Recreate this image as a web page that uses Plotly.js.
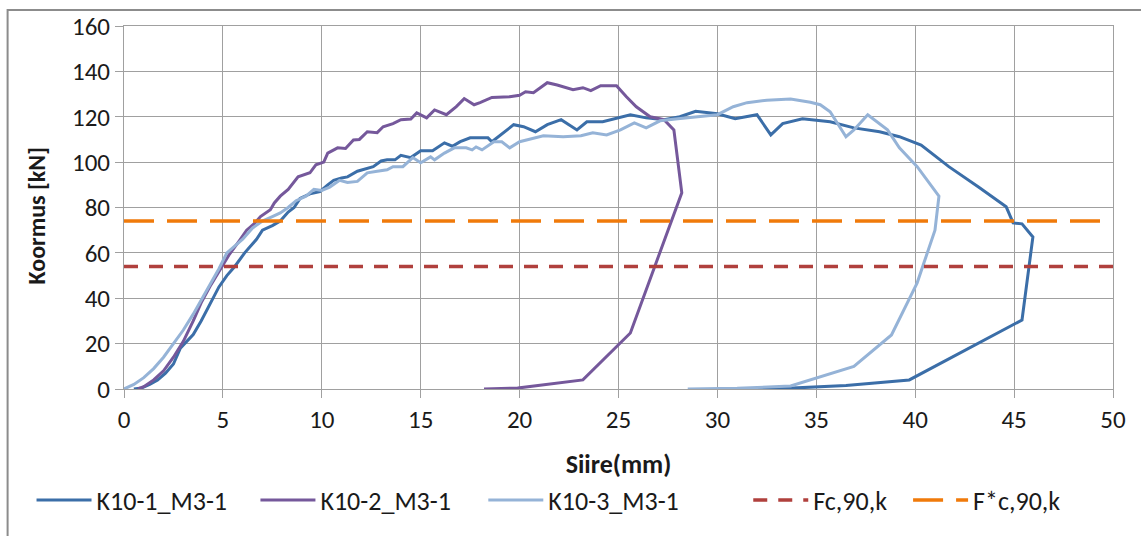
<!DOCTYPE html>
<html>
<head>
<meta charset="utf-8">
<script src="https://cdn.plot.ly/plotly-3.0.1.min.js"></script>
<style>
  html, body { margin: 0; padding: 0; background: #fff; }
  #chart { width: 1141px; height: 536px; }
</style>
</head>
<body>
<div id="chart"></div>
<script>
// ---- data ----
const seriesNames = ["K10-1_M3-1", "K10-2_M3-1", "K10-3_M3-1", "Fc,90,k", "F*c,90,k"];

const k1X = [0.5,0.9,1.3,1.7,2.1,2.5,2.85,3.2,3.5,3.9,4.4,4.8,5.2,5.6,6.1,6.4,6.7,7.0,7.5,7.9,8.3,8.6,8.9,9.4,9.9,10.3,10.6,11.0,11.3,11.8,12.2,12.6,13.0,13.3,13.7,14.0,14.5,15.0,15.6,16.2,16.6,17.0,17.5,18.0,18.4,18.6,19.2,19.7,20.2,20.8,21.4,22.1,22.9,23.4,24.2,25.1,25.6,26.4,27.3,28.1,28.9,30.0,30.9,32.0,32.7,33.3,34.3,35.7,36.9,38.2,39.2,40.3,41.7,43.2,44.6,44.95,45.4,45.95,45.4,39.7,36.5,33.5,32.0];
const k1Y = [0,0.5,2,4,7,11,18,21,24,30,38,45,50,54,60,63,66,70,72,74,78,80,84,86,87,90,92,93,93.5,96,97,98,100.5,101,101,103,102,105,105,108.5,107,109,110.7,110.7,110.7,109,113,116.5,115.6,113.4,116.5,118.7,114.2,117.8,117.8,120,120.9,119.5,118.7,120,122.4,121.3,119.1,120.9,112,117,119.1,117.8,115.1,113.4,111.2,107.5,98,89,80.3,73.2,72.8,67,30.4,4,1.5,0.3,0];

const k2X = [0.7,1.0,1.5,2.0,2.5,3.0,3.5,3.9,4.4,4.9,5.3,5.8,6.2,6.6,6.9,7.4,7.6,7.9,8.3,8.8,9.4,9.7,10.1,10.3,10.8,11.2,11.6,11.9,12.3,12.8,13.1,13.6,14.0,14.5,14.8,15.3,15.7,16.3,16.8,17.2,17.7,18.0,18.6,19.5,20.0,20.3,20.7,21.4,21.9,22.7,23.2,23.6,24.1,24.9,25.4,25.9,26.6,27.3,27.8,28.2,25.6,23.2,19.9,18.2];
const k2Y = [0,1,4,8,14,21,30,38,46,53,59,65,70,73,76,79,82,85,88,93.5,95.3,98.8,100,104,106.3,106,109.8,110,113.4,113,115.6,117,118.7,119,121.7,119.5,123,120.9,124.5,128,125.3,126.2,128.5,128.8,129.5,131,130.6,135,134,131.9,132.8,131.5,133.7,133.7,128.8,124.4,120,118.7,114.2,86.5,24.7,4,0.4,0];

const k3X = [0,0.5,1.0,1.5,2.0,2.5,3.0,3.5,3.9,4.3,4.8,5.2,5.6,6.0,6.5,7.0,7.5,7.9,8.3,8.7,9.2,9.6,10.0,10.4,10.9,11.3,11.8,12.3,12.8,13.3,13.6,14.1,14.6,15.0,15.5,15.7,16.2,16.7,17.3,17.6,17.8,18.1,18.7,19.1,19.5,20.0,20.6,21.2,22.2,23.1,23.7,24.4,25.1,25.8,26.4,27.1,28.0,29.1,30.0,30.8,31.5,32.5,33.7,34.7,35.2,35.7,36.5,36.9,37.6,38.6,39.2,40.1,41.2,41.0,40.1,38.8,36.9,33.7,31.0,28.5];
const k3Y = [0,2,5,9,14,20,26,33,39,45,53,60,63,66,71,74,76,77.6,80,83,85,88,87.5,89,92,91,91.5,95.3,96,96.6,98,98,102,99.7,102.3,101,104,106.3,106.3,105.4,106.7,105.4,109,109,106.3,109,110.3,111.6,111.2,111.6,112.9,112,114.2,117.3,115.1,118.2,119.1,120,120.9,124.4,126.2,127.3,127.8,126.4,125.3,122.2,111.2,114.2,120.9,114.2,106.3,98,85,70,46.8,23.8,10,1.3,0.3,0];

const FC90K = 54;       // Fc,90,k
const FSTAR90K = 74;    // F*c,90,k

const xRange = [0, 50];
const yRange = [0, 160];
const xTickVals = [0,5,10,15,20,25,30,35,40,45,50];
const yTickVals = [0,20,40,60,80,100,120,140,160];

const xTitle = "Siire(mm)";
const yTitle = "Koormus [kN]";

// ---- styles ----
const colors = ["#3B6EA8", "#75589B", "#95B3D7", "#B0403D", "#F07A0A"];
const FONT = "Carlito, 'Liberation Sans', Arial, sans-serif";
const gridColor = "#A0A0A0";
const textColor = "#1a1a1a";
const legendIds = ["legend", "legend2", "legend3", "legend4", "legend5"];
const legendX = [-0.0935, 0.1329, 0.3633, 0.6312, 0.7928];

const traces = [
  {x: k1X, y: k1Y, name: seriesNames[0], mode: "lines", line: {color: colors[0], width: 3}},
  {x: k2X, y: k2Y, name: seriesNames[1], mode: "lines", line: {color: colors[1], width: 3}},
  {x: k3X, y: k3Y, name: seriesNames[2], mode: "lines", line: {color: colors[2], width: 3}},
  {x: xRange, y: [FC90K, FC90K], name: seriesNames[3], mode: "lines", line: {color: colors[3], width: 3.5, dash: "14px,11px"}},
  {x: xRange, y: [FSTAR90K, FSTAR90K], name: seriesNames[4], mode: "lines", line: {color: colors[4], width: 3.5, dash: "30px,13px"}}
];
traces.forEach((t, i) => { t.legend = legendIds[i]; });

const layout = {
  width: 1141, height: 536,
  margin: {l: 123.5, r: 28, t: 26, b: 147},
  paper_bgcolor: "#fff", plot_bgcolor: "#fff",
  font: {family: FONT, size: 25, color: textColor},
  showlegend: true,
  xaxis: {
    range: xRange, tickvals: xTickVals, ticktext: xTickVals.map(String),
    showgrid: true, gridcolor: gridColor, gridwidth: 1,
    showline: true, linecolor: gridColor, linewidth: 1, mirror: true,
    ticks: "outside", ticklen: 8, tickcolor: gridColor, tickwidth: 1,
    zeroline: false, tickfont: {family: FONT, size: 25, color: textColor},
    title: {text: "<b>" + xTitle + "</b>", font: {family: FONT, size: 26, color: textColor}, standoff: 20}
  },
  yaxis: {
    range: yRange, tickvals: yTickVals, ticktext: yTickVals.map(String),
    showgrid: true, gridcolor: gridColor, gridwidth: 1,
    showline: true, linecolor: gridColor, linewidth: 1, mirror: true,
    ticks: "outside", ticklen: 8, tickcolor: gridColor, tickwidth: 1,
    zeroline: false, tickfont: {family: FONT, size: 25, color: textColor}
  },
  annotations: [{
    text: "<b>" + yTitle + "</b>", xref: "paper", yref: "paper",
    x: -0.0884, y: 0.477, xanchor: "center", yanchor: "middle",
    textangle: -90, showarrow: false,
    font: {family: FONT, size: 24, color: textColor}
  }],
  shapes: [{
    type: "rect", xref: "paper", yref: "paper",
    x0: -0.1177, x1: 1.06, y0: -0.5, y1: 1.044,
    line: {color: "#8C8C8C", width: 2}, fillcolor: "rgba(0,0,0,0)", layer: "below"
  }]
};
legendIds.forEach((id, i) => {
  layout[id] = {
    orientation: "h", x: legendX[i], xanchor: "left", y: -0.306, yanchor: "middle",
    font: {family: FONT, size: 26, color: textColor},
    itemwidth: 55, bgcolor: "rgba(0,0,0,0)", borderwidth: 0
  };
});

Plotly.newPlot("chart", traces, layout, {displayModeBar: false, staticPlot: true});
</script>
</body>
</html>
